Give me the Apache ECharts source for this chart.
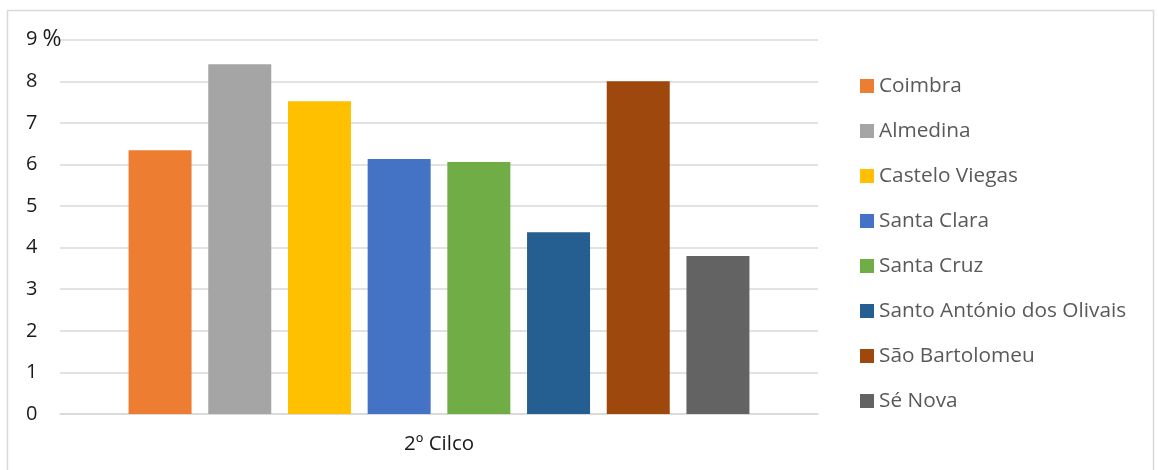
<!DOCTYPE html>
<html><head><meta charset="utf-8">
<script src="https://cdn.jsdelivr.net/npm/echarts@6/dist/echarts.min.js"></script>
<style>html,body{margin:0;padding:0;background:#fff}#c{width:1158px;height:470px}</style>
</head><body><div id="c"></div>
<script>
const categories = ['2º Cilco'];
const seriesNames = ['Coimbra','Almedina','Castelo Viegas','Santa Clara','Santa Cruz','Santo António dos Olivais','São Bartolomeu','Sé Nova'];
const seriesValues = [6.34, 8.41, 7.52, 6.13, 6.06, 4.37, 8.0, 3.80];
const seriesColors = ['#ED7D31','#A5A5A5','#FFC000','#4472C4','#70AD47','#255E91','#9E480E','#636363'];
const yTicks = [0,1,2,3,4,5,6,7,8,9];

const FONT = 'Open Sans';
const chart = echarts.init(document.getElementById('c'), null, {renderer:'canvas'});
chart.setOption({
  animation:false,
  backgroundColor:'#fff',
  graphic:[{type:'rect',shape:{x:7.5,y:10.5,width:1146,height:470},style:{fill:'none',stroke:'#D9D9D9',lineWidth:1.5},silent:true}],
  grid:{left:60,right:340,top:39.7,bottom:56},
  legend:{
    orient:'vertical', left:860, top:75.5, padding:0, itemWidth:14, itemHeight:14, itemGap:24,
    icon:'rect',
    textStyle:{fontFamily:FONT,fontSize:20.8,color:'#595959'},
    data:seriesNames
  },
  xAxis:{
    type:'category', data:categories,
    axisLine:{lineStyle:{color:'#D9D9D9',width:1.5}},
    axisTick:{show:false},
    axisLabel:{fontFamily:FONT,fontSize:20.5,color:'#1a1a1a',margin:20}
  },
  yAxis:{
    type:'value', min:yTicks[0], max:yTicks[yTicks.length-1], interval:1,
    axisLine:{show:false}, axisTick:{show:false},
    splitLine:{lineStyle:{color:'#D9D9D9',width:1.5}},
    axisLabel:{fontFamily:FONT,fontSize:20,color:'#1a1a1a',align:'left',margin:34,
      formatter:v=> v===9 ? '9{p|%}' : String(v),
      rich:{p:{fontFamily:FONT,fontSize:23,color:'#1a1a1a',padding:[0,0,0,5]}}}
  },
  series: seriesNames.map((n,i)=>({
    name:n, type:'bar', data:[seriesValues[i]],
    barWidth:63, barGap:'26.5%',
    itemStyle:{color:seriesColors[i]}
  }))
});
</script></body></html>
